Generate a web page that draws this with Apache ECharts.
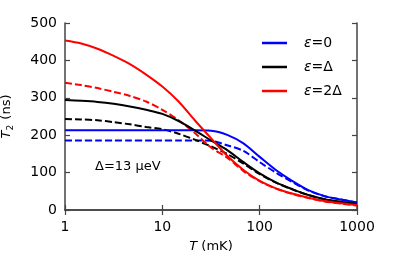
<!DOCTYPE html>
<html>
<head>
<meta charset="utf-8">
<script src="https://cdn.jsdelivr.net/npm/echarts@6/dist/echarts.min.js"></script>
<style>html,body{margin:0;padding:0;background:#fff}#c{width:396px;height:254px}</style>
</head>
<body>
<div id="c"></div>
<script>
// Temperature grid (mK), read at equal steps on the log axis
const temps = [1, 1.468, 2.154, 3.162, 4.642, 6.813, 10, 14.68, 21.54, 31.62, 46.42, 68.13, 100, 146.8, 215.4, 316.2, 464.2, 681.3, 1000];
// T2 (ns) values
const blueSolid  = [213, 213, 213, 213, 213, 213, 213, 213, 213, 212, 201, 178, 142, 107, 78, 53, 37, 28, 20];
const blueDashed = [186, 186, 186, 186, 186, 186, 186, 186, 186, 185, 173, 158, 128, 100, 75, 52, 37, 28, 20];
const blackSolid = [294, 292, 289, 284, 277, 268, 257, 238, 213, 186, 160, 128, 98, 74, 56, 40, 29, 22, 16];
const blackDashed= [243, 242, 240, 235, 229, 222, 216, 204, 188, 170, 150, 124, 96, 73, 55, 40, 29, 21, 15];
const redSolid   = [453, 445, 431, 412, 390, 362, 330, 290, 240, 192, 145, 107, 78, 58, 44, 33, 24, 18, 13];
const redDashed  = [340, 334, 326, 316, 305, 290, 268, 240, 206, 167, 140, 104, 77, 57, 43, 32, 23, 17, 12];
const yTicks = [0, 100, 200, 300, 400, 500];
const xTicks = [1, 10, 100, 1000];
const legendNames = ['ε=0', 'ε=Δ', 'ε=2Δ'];

const pairs = arr => temps.map((t, i) => [t, arr[i]]);
const FONT = 'DejaVu Sans';
const axisCol = '#444';

function line(name, color, data, dashed) {
  return {
    name: name, type: 'line', data: pairs(data), xAxisIndex: 0, yAxisIndex: 0,
    showSymbol: false, symbol: 'none', smooth: 0.3,
    lineStyle: { color: color, width: 2, type: dashed ? [7, 3] : 'solid' },
    itemStyle: { color: color }, z: dashed ? 3 : 4, animation: false
  };
}

const chart = echarts.init(document.getElementById('c'), null, { renderer: 'canvas' });
chart.setOption({
  animation: false,
  grid: { left: 65, right: 39, top: 23, bottom: 44, containLabel: false, outerBoundsMode: 'none' },
  legend: {
    data: legendNames.map(n => ({ name: n })),
    orient: 'vertical', left: 262, top: 36, padding: 0,
    icon: 'rect', itemWidth: 25, itemHeight: 2.5, itemGap: 10,
    formatter: n => '{i|ε}' + n.slice(1),
    textStyle: {
      fontFamily: FONT, fontSize: 14, color: '#000', padding: [0, 0, 0, 12], lineHeight: 14,
      rich: { i: { fontStyle: 'italic', fontFamily: FONT, fontSize: 14, color: '#000' } }
    }
  },
  xAxis: [{
    type: 'log', logBase: 10, min: 1, max: 1000, position: 'bottom',
    name: '{i|T} (mK)', nameLocation: 'middle', nameGap: 30,
    nameTextStyle: { fontFamily: FONT, fontSize: 13, color: '#000',
      rich: { i: { fontStyle: 'italic', fontFamily: FONT, fontSize: 13, color: '#000' } } },
    axisLine: { lineStyle: { color: axisCol, width: 1.5 } },
    axisTick: { inside: true, length: 5, lineStyle: { color: axisCol, width: 1.2 } },
    minorTick: { show: false },
    axisLabel: { fontFamily: FONT, fontSize: 14, color: '#000', margin: 10,
      formatter: v => { const r = Math.round(v); return xTicks.includes(r) ? String(r) : ''; } },
    splitLine: { show: false }
  }, {
    type: 'log', logBase: 10, min: 1, max: 1000, position: 'top',
    axisLine: { lineStyle: { color: axisCol, width: 1.5 } },
    axisTick: { inside: true, length: 5, lineStyle: { color: axisCol, width: 1.2 } },
    axisLabel: { show: false }, splitLine: { show: false }
  }],
  yAxis: [{
    type: 'value', min: 0, max: 500, interval: 100, position: 'left',
    name: '{i|T}{s|2} (ns)', nameLocation: 'middle', nameGap: 50, nameRotate: 90,
    nameTextStyle: { fontFamily: FONT, fontSize: 13, color: '#000',
      rich: { i: { fontStyle: 'italic', fontFamily: FONT, fontSize: 13, color: '#000' },
              s: { fontFamily: FONT, fontSize: 9, color: '#000', padding: [7, 1, 0, 0] } } },
    axisLine: { show: true, lineStyle: { color: axisCol, width: 1.5 } },
    axisTick: { show: true, inside: true, length: 5, lineStyle: { color: axisCol, width: 1.2 } },
    axisLabel: { fontFamily: FONT, fontSize: 14, color: '#000', margin: 8,
      formatter: v => yTicks.includes(v) ? String(v) : '' },
    splitLine: { show: false }
  }, {
    type: 'value', min: 0, max: 500, interval: 100, position: 'right',
    axisLine: { show: true, lineStyle: { color: axisCol, width: 1.5 } },
    axisTick: { show: true, inside: true, length: 5, lineStyle: { color: axisCol, width: 1.2 } },
    axisLabel: { show: false }, splitLine: { show: false }
  }],
  graphic: [{
    type: 'text', left: 95, top: 160,
    style: { text: 'Δ=13 μeV', font: '13px "DejaVu Sans"', fill: '#000' }
  }],
  series: [
    line('ε=0-d', '#0000ff', blueDashed, true),
    line('ε=Δ-d', '#000000', blackDashed, true),
    line('ε=2Δ-d', '#ff0000', redDashed, true),
    line('ε=0', '#0000ff', blueSolid, false),
    line('ε=Δ', '#000000', blackSolid, false),
    line('ε=2Δ', '#ff0000', redSolid, false)
  ]
});
</script>
</body>
</html>
